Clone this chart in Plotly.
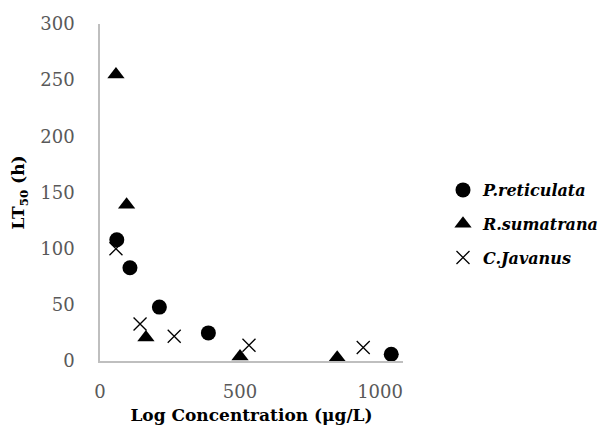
import plotly.graph_objects as go

# Data
p_reticulata_x = [60, 107, 212, 387, 1040]
p_reticulata_y = [108, 83, 48, 25, 6]
r_sumatrana_x = [57, 95, 164, 500, 847]
r_sumatrana_y = [255, 139, 21, 4, 3]
c_javanus_x = [57, 143, 265, 532, 940]
c_javanus_y = [100, 33, 22, 14, 12]

x_ticks = [0, 500, 1000]
y_ticks = [0, 50, 100, 150, 200, 250, 300]

fig = go.Figure()
fig.add_trace(go.Scatter(x=p_reticulata_x, y=p_reticulata_y, mode="markers",
                         name="<b><i>P.reticulata</i></b>", legendgroup="a",
                         marker=dict(symbol="circle", size=15, color="black")))
fig.add_trace(go.Scatter(x=r_sumatrana_x, y=r_sumatrana_y, mode="markers",
                         name="<b><i>R.sumatrana</i></b>", legendgroup="b",
                         marker=dict(symbol="triangle-up", size=15, color="black")))
fig.add_trace(go.Scatter(x=c_javanus_x, y=c_javanus_y, mode="markers",
                         name="<b><i>C.Javanus</i></b>", legendgroup="c",
                         marker=dict(symbol="x-thin-open", size=13, color="black",
                                     line=dict(width=1.3, color="black"))))

tickfont = dict(family="DejaVu Serif", size=18, color="#595959")
titlefont = dict(family="DejaVu Serif", size=17, color="black")
fig.update_layout(
    width=609, height=432,
    margin=dict(l=100, r=206, t=24, b=71, autoexpand=False),
    paper_bgcolor="white", plot_bgcolor="white",
    showlegend=True,
    legend=dict(x=1.132, y=0.4065, xanchor="left", yanchor="middle",
                font=dict(family="DejaVu Serif", size=16, color="black"),
                itemwidth=30, tracegroupgap=10, bgcolor="rgba(0,0,0,0)"),
    xaxis=dict(range=[0, 1082], tickvals=x_ticks, showgrid=False, zeroline=False,
               showline=True, linecolor="#bfbfbf", linewidth=1.5,
               ticks="", ticklabelstandoff=14, tickfont=tickfont,
               title=dict(text="<b>Log Concentration (μg/L)</b>",
                          font=titlefont, standoff=8)),
    yaxis=dict(range=[0, 300], tickvals=y_ticks, showgrid=False, zeroline=False,
               showline=True, linecolor="#bfbfbf", linewidth=1.5,
               ticks="", ticklabelstandoff=20, tickfont=tickfont,
               title=dict(text="<b>LT<sub>50</sub> (h)</b>",
                          font=titlefont, standoff=11)),
)
fig.write_html("out.html", config={"displayModeBar": False},
               post_script="document.body.style.margin='0';")
